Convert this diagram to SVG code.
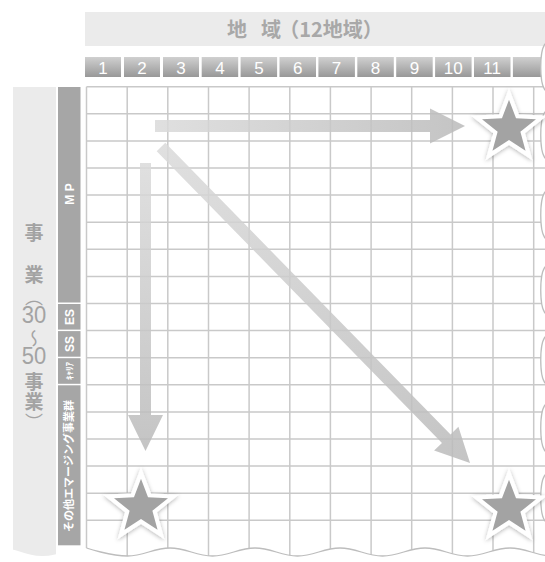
<svg xmlns="http://www.w3.org/2000/svg" width="545" height="562" viewBox="0 0 545 562">
<defs>
<linearGradient id="cellG" x1="0" y1="0" x2="0" y2="1">
<stop offset="0" stop-color="#d0d0d0"/><stop offset="1" stop-color="#989898"/>
</linearGradient>
<linearGradient id="arrG" x1="0" y1="0" x2="1" y2="0">
<stop offset="0" stop-color="#dadada"/><stop offset="1" stop-color="#bababa"/>
</linearGradient>
<filter id="sh" x="-30%" y="-30%" width="160%" height="160%">
<feDropShadow dx="0" dy="1" stdDeviation="2.2" flood-color="#000" flood-opacity="0.3"/>
</filter>
<path id="star" d="M0,-33 L8.23,-11.33 L31.38,-10.2 L13.31,4.33 L19.4,26.7 L0,14 L-19.4,26.7 L-13.31,4.33 L-31.38,-10.2 L-8.23,-11.33 Z"/>
</defs>
<style>
.cell{fill:url(#cellG)}
.num{fill:#fff;font-family:"Liberation Sans","DejaVu Sans",sans-serif;font-size:17px;text-anchor:middle}
.grid line{stroke:#c9c9c9;stroke-width:1.5}
.lab{fill:#a6a6a6}
.labt{fill:#fff;font-family:"Liberation Sans","Noto Sans CJK JP",sans-serif;font-weight:bold;text-anchor:middle}
.side{fill:#a3a3a3;font-family:"Noto Sans CJK JP",sans-serif;font-weight:bold;font-size:19px;text-anchor:middle}
.sidenum{fill:#a3a3a3;font-family:"Liberation Sans","Noto Sans CJK JP",sans-serif;font-size:22px;text-anchor:middle}
.vert{fill:#a3a3a3;font-family:"Noto Sans CJK JP",sans-serif;font-size:18px;writing-mode:vertical-rl}
.title{fill:#a8a8a8;font-family:"Noto Sans CJK JP",sans-serif;font-weight:bold;font-size:20px;text-anchor:middle}
.arrow{fill:url(#arrG);fill-opacity:0.85}
.star{fill:#a3a3a3;stroke:#fff;stroke-width:4;stroke-linejoin:miter;filter:url(#sh)}
.wave{fill:none;stroke:#bdbdbd;stroke-width:1.3}
</style>
<rect width="545" height="562" fill="#fff"/>

<g id="header">
<rect x="85" y="12" width="460" height="34" fill="#ebebeb"/>
<text class="title" x="237" y="37">地</text>
<text class="title" x="271" y="37">域</text>
<text class="title" x="331" y="37">（12地域）</text>
</g>

<g id="columns">
<rect class="cell" x="85" y="57" width="36" height="20"/><text class="num" x="103" y="73.5">1</text>
<rect class="cell" x="124" y="57" width="36" height="20"/><text class="num" x="142" y="73.5">2</text>
<rect class="cell" x="163" y="57" width="36" height="20"/><text class="num" x="181" y="73.5">3</text>
<rect class="cell" x="201.7" y="57" width="36.5" height="20"/><text class="num" x="220" y="73.5">4</text>
<rect class="cell" x="240.6" y="57" width="36.5" height="20"/><text class="num" x="259" y="73.5">5</text>
<rect class="cell" x="279.5" y="57" width="36.5" height="20"/><text class="num" x="297.8" y="73.5">6</text>
<rect class="cell" x="318.4" y="57" width="36.5" height="20"/><text class="num" x="336.6" y="73.5">7</text>
<rect class="cell" x="357.3" y="57" width="36.5" height="20"/><text class="num" x="375.5" y="73.5">8</text>
<rect class="cell" x="396.2" y="57" width="36.5" height="20"/><text class="num" x="414.4" y="73.5">9</text>
<rect class="cell" x="435.1" y="57" width="36.5" height="20"/><text class="num" x="453.3" y="73.5">10</text>
<rect class="cell" x="474" y="57" width="36.5" height="20"/><text class="num" x="492.2" y="73.5">11</text>
<rect class="cell" x="512.9" y="57" width="36.5" height="20"/>
</g>

<g id="side-label">
<rect x="13" y="87" width="43" height="470" fill="#ebebeb"/>
<text class="side" x="34" y="240">事</text>
<text class="side" x="34" y="282">業</text>
<text class="vert" x="34" y="288">（</text>
<text class="sidenum" transform="translate(34,323) scale(1,1.12)">30</text>
<text class="vert" x="34" y="329">～</text>
<text class="sidenum" transform="translate(34,364) scale(1,1.06)">50</text>
<text class="side" x="34" y="389" font-size="17">事</text>
<text class="side" x="34" y="409" font-size="17">業</text>
<text class="vert" x="34" y="413">）</text>
</g>

<g id="row-labels">
<rect class="lab" x="58" y="87" width="22.5" height="215.5"/>
<text class="labt" font-size="12" transform="translate(73.5,194) rotate(-90)">M P</text>
<rect class="lab" x="58" y="304" width="22.5" height="25.6"/>
<text class="labt" font-size="12" transform="translate(73.8,317) rotate(-90)">ES</text>
<rect class="lab" x="58" y="331.1" width="22.5" height="25.6"/>
<text class="labt" font-size="12" transform="translate(73.8,344) rotate(-90)">SS</text>
<rect class="lab" x="58" y="358.2" width="22.5" height="25.6"/>
<text class="labt" font-size="9" font-weight="normal" transform="translate(72.5,371) rotate(-90)">ｷｬﾘｱ</text>
<rect class="lab" x="58" y="385.3" width="22.5" height="160"/>
<text class="labt" font-size="11" transform="translate(73,466) rotate(-90)">その他エマージング事業群</text>
</g>

<g class="grid">
<line x1="86.5" y1="86.7" x2="545" y2="86.7"/>
<line x1="86.5" y1="113.8" x2="545" y2="113.8"/>
<line x1="86.5" y1="140.9" x2="545" y2="140.9"/>
<line x1="86.5" y1="168" x2="545" y2="168"/>
<line x1="86.5" y1="195.1" x2="545" y2="195.1"/>
<line x1="86.5" y1="222.2" x2="545" y2="222.2"/>
<line x1="86.5" y1="249.3" x2="545" y2="249.3"/>
<line x1="86.5" y1="276.4" x2="545" y2="276.4"/>
<line x1="86.5" y1="303.5" x2="545" y2="303.5"/>
<line x1="86.5" y1="330.6" x2="545" y2="330.6"/>
<line x1="86.5" y1="357.7" x2="545" y2="357.7"/>
<line x1="86.5" y1="384.8" x2="545" y2="384.8"/>
<line x1="86.5" y1="411.9" x2="545" y2="411.9"/>
<line x1="86.5" y1="439" x2="545" y2="439"/>
<line x1="86.5" y1="466.1" x2="545" y2="466.1"/>
<line x1="86.5" y1="493.2" x2="545" y2="493.2"/>
<line x1="86.5" y1="520.3" x2="545" y2="520.3"/>
<line x1="86.5" y1="86.7" x2="86.5" y2="562"/>
<line x1="127.2" y1="86.7" x2="127.2" y2="562"/>
<line x1="167.8" y1="86.7" x2="167.8" y2="562"/>
<line x1="208.5" y1="86.7" x2="208.5" y2="562"/>
<line x1="249.1" y1="86.7" x2="249.1" y2="562"/>
<line x1="289.8" y1="86.7" x2="289.8" y2="562"/>
<line x1="330.4" y1="86.7" x2="330.4" y2="562"/>
<line x1="371.1" y1="86.7" x2="371.1" y2="562"/>
<line x1="411.7" y1="86.7" x2="411.7" y2="562"/>
<line x1="452.4" y1="86.7" x2="452.4" y2="562"/>
<line x1="493" y1="86.7" x2="493" y2="562"/>
<line x1="533.7" y1="86.7" x2="533.7" y2="562"/>
</g>

<g id="connectors">
<path class="arrow" transform="translate(155,126)" d="M0,-6 H275 V-17.5 L310,0 L275,17.5 V6 H0 Z"/>
<path class="arrow" transform="translate(145.5,163) rotate(90)" d="M0,-5.5 H252 V-17.5 L288,0 L252,17.5 V5.5 H0 Z"/>
<path class="arrow" transform="translate(161,147) rotate(45.64)" d="M0,-6 H408 V-17 L442,0 L408,17 V6 H0 Z"/>
</g>

<g id="edges">
<path d="M548,50 L546,43 C539,49 539,85 546,91 L546,111 C539,117 539,153 546,159 L546,191 C539,197 539,233 546,239 L546,266 C539,272 539,308 546,314 L546,336 C539,342 539,378 546,384 L546,404 C539,410 539,446 546,452 L546,474 C539,480 539,516 546,522 L548,562 L560,562 L560,40 Z" fill="#fff"/>
<path class="wave" d="M546,43 C539,49 539,85 546,91 M546,111 C539,117 539,153 546,159 M546,191 C539,197 539,233 546,239 M546,266 C539,272 539,308 546,314 M546,336 C539,342 539,378 546,384 M546,404 C539,410 539,446 546,452 M546,474 C539,480 539,516 546,522"/>
<path d="M0,548 C17,548 25.5,556 42.5,556 S68,548 85,548 S110.5,556 127.5,556 S153,548 170,548 S195.5,556 212.5,556 S238,548 255,548 S280.5,556 297.5,556 S323,548 340,548 S365.5,556 382.5,556 S408,548 425,548 S450.5,556 467.5,556 S493,548 510,548 S535.5,556 552.5,556 L552.5,570 L0,570 Z" fill="#fff"/>
<path class="wave" d="M86.5,548 S110.5,556 127.5,556 S153,548 170,548 S195.5,556 212.5,556 S238,548 255,548 S280.5,556 297.5,556 S323,548 340,548 S365.5,556 382.5,556 S408,548 425,548 S450.5,556 467.5,556 S493,548 510,548 S535.5,556 552.5,556"/>
</g>

<g id="star-top-right"><use href="#star" class="star" transform="translate(509,128) scale(1.03)"/></g>
<g id="star-bottom-left"><use href="#star" class="star" transform="translate(141,507) scale(1.03)"/></g>
<g id="star-bottom-right"><use href="#star" class="star" transform="translate(509,508) scale(1.03)"/></g>
</svg>
